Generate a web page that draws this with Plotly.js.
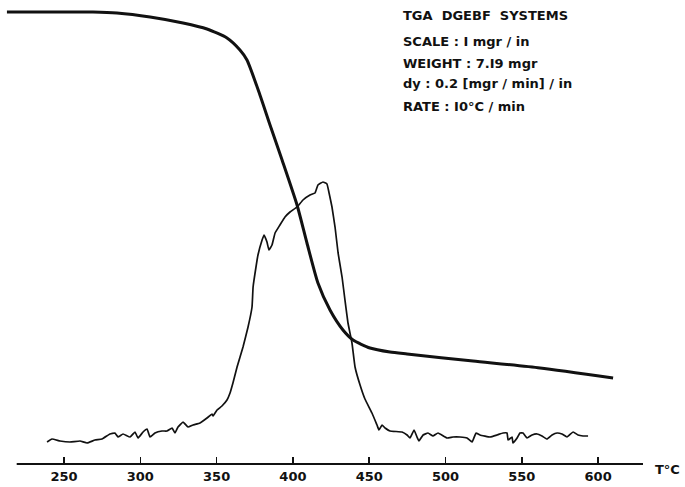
<!DOCTYPE html>
<html>
<head>
<meta charset="utf-8">
<script src="https://cdn.plot.ly/plotly-3.0.1.min.js"></script>
<style>html,body{margin:0;padding:0;background:#fff;}#chart{width:685px;height:487px;}</style>
</head>
<body>
<div id="chart"></div>
<script>
// Temperature (°C) and signal heights (arbitrary units above baseline)
const tgaTemp = [212.6, 247.4, 269.0, 284.7, 306.4, 328.0, 343.7, 356.8, 365.3, 369.9, 378.4, 385.0, 392.9, 402.7, 409.2, 416.4, 424.3, 432.8, 439.4, 450.5, 463.6, 474.8, 518.0, 561.9, 609.8];
const tgaWeight = [452, 452, 452, 451, 447, 441, 435, 426, 414, 404, 369, 339, 304, 259, 221, 181, 154, 134, 124, 116, 112, 110, 103, 96, 86];

const dtgTemp = [238.9, 242.1, 247.4, 253.9, 260.5, 265.1, 270.3, 274.9, 280.1, 283.4, 285.4, 288.7, 293.3, 296.5, 298.5, 301.8, 304.4, 306.4, 309.6, 314.2, 317.5, 320.8, 322.7, 324.7, 328.0, 331.3, 334.5, 339.1, 343.7, 347.0, 347.6, 350.3, 353.5, 356.8, 358.8, 360.7, 363.4, 367.3, 370.6, 373.2, 373.9, 375.8, 377.1, 379.8, 381.1, 383.0, 384.3, 386.3, 388.3, 391.5, 394.8, 398.1, 402.7, 406.6, 411.2, 414.5, 416.4, 419.7, 422.3, 423.7, 425.6, 427.6, 429.6, 432.2, 434.1, 436.1, 438.7, 440.7, 444.0, 447.2, 451.8, 455.1, 456.4, 458.4, 460.4, 463.6, 471.5, 474.8, 476.7, 479.4, 481.3, 482.6, 485.3, 488.5, 491.8, 495.1, 501.0, 504.9, 509.5, 514.1, 517.4, 520.0, 522.6, 529.2, 533.7, 537.7, 540.3, 541.0, 543.6, 544.2, 546.9, 548.8, 550.8, 553.4, 556.7, 560.0, 563.2, 566.5, 569.8, 573.1, 576.3, 579.6, 583.6, 586.8, 590.1, 593.4];
const dtgRate = [22, 25, 23, 22, 23, 21, 24, 25, 30, 31, 27, 30, 27, 32, 26, 32, 35, 27, 31, 33, 33, 36, 31, 37, 42, 37, 39, 41, 46, 50, 48, 54, 58, 64, 71, 81, 97, 117, 137, 157, 177, 197, 209, 224, 229, 222, 214, 219, 231, 239, 247, 252, 257, 264, 269, 271, 279, 282, 280, 271, 257, 237, 211, 187, 164, 141, 121, 97, 79, 65, 51, 39, 34, 39, 36, 33, 32, 29, 26, 34, 27, 23, 29, 31, 28, 31, 26, 27, 27, 26, 22, 31, 29, 27, 29, 31, 31, 24, 27, 21, 26, 31, 31, 26, 29, 30, 28, 25, 29, 31, 30, 27, 32, 29, 28, 28];

const tickVals = [250, 300, 350, 400, 450, 500, 550, 600];
const tickText = ['250', '300', '350', '400', '450', '500', '550', '600'];
const infoLines = ['TGA  DGEBF  SYSTEMS', 'SCALE : I mgr / in', 'WEIGHT : 7.I9 mgr', 'dy : 0.2 [mgr / min] / in', 'RATE : I0°C / min'];

const W = 643, H = 464;
const FONT = 'DejaVu Sans, Liberation Sans, Arial, sans-serif';
const traces = [
  {x: tgaTemp, y: tgaWeight, type: 'scatter', mode: 'lines', line: {color: '#111', width: 3, shape: 'spline', smoothing: 0.6}, hoverinfo: 'skip'},
  {x: dtgTemp, y: dtgRate, type: 'scatter', mode: 'lines', line: {color: '#111', width: 1.7, shape: 'spline', smoothing: 0.3}, hoverinfo: 'skip'}
];
const infoY = [15, 41, 63, 84, 106];
const annotations = infoLines.map((t, i) => ({
  text: t, xref: 'paper', yref: 'paper', x: 401 / W, y: 1 - infoY[i] / H,
  xanchor: 'left', yanchor: 'middle', showarrow: false,
  font: {family: FONT, size: 13, color: '#111', weight: 'bold'}
}));
annotations.push({text: 'T°C', xref: 'paper', yref: 'paper', x: 653 / W, y: 1 - 469 / H, xanchor: 'left', yanchor: 'middle', showarrow: false,
  font: {family: FONT, size: 13, color: '#111', weight: 'bold'}});

const layout = {
  width: 685, height: 487,
  margin: {l: 0, r: 42, t: 0, b: 23, pad: 0},
  paper_bgcolor: '#fff', plot_bgcolor: '#fff',
  showlegend: false,
  xaxis: {range: [208.06, 629.4], showgrid: false, zeroline: false, showline: false,
    tickvals: tickVals, ticktext: tickText, ticks: 'inside', ticklen: 7, tickwidth: 1.5, tickcolor: '#111',
    ticklabelstandoff: 3,
    tickfont: {family: FONT, size: 13, color: '#111', weight: 'bold'}, fixedrange: true},
  yaxis: {range: [0, 464], visible: false, fixedrange: true},
  shapes: [{type: 'line', xref: 'x', yref: 'paper', x0: 219, x1: 629.4, y0: 0, y1: 0, line: {color: '#111', width: 2}}],
  annotations: annotations
};
Plotly.newPlot('chart', traces, layout, {displayModeBar: false, staticPlot: true});
</script>
</body>
</html>
